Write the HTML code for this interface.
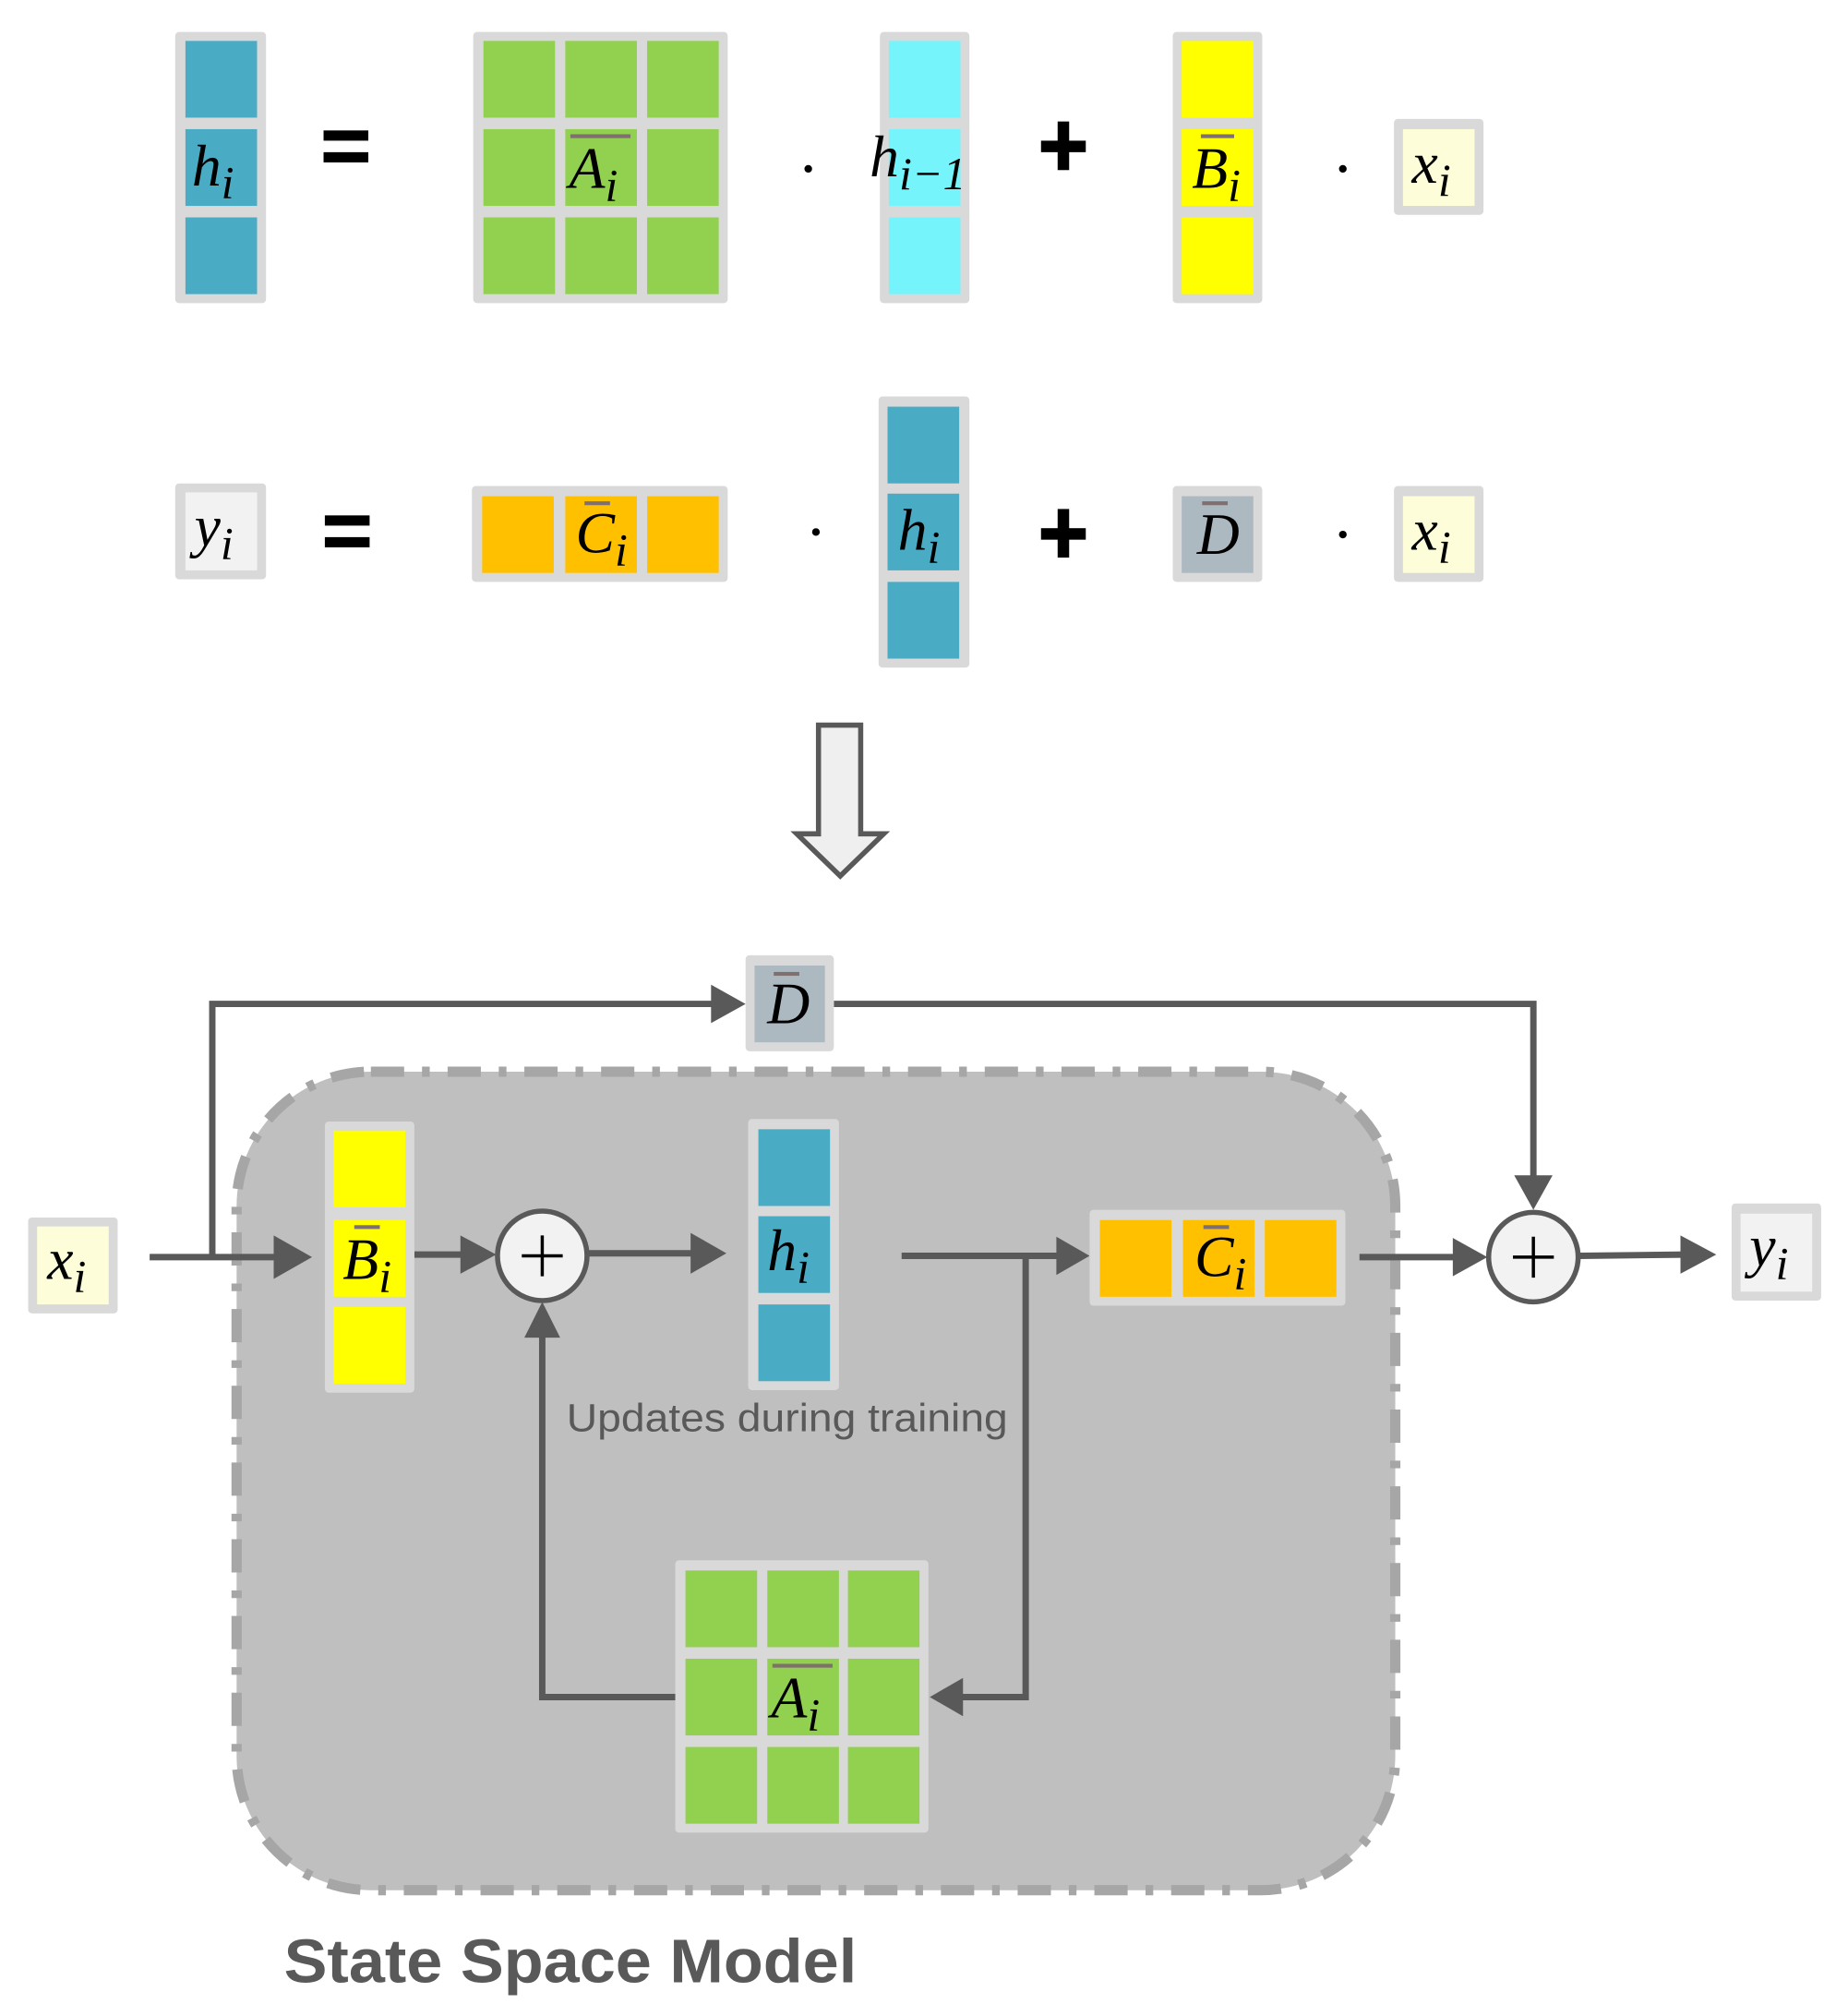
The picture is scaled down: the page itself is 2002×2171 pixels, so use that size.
<!DOCTYPE html>
<html><head><meta charset="utf-8"><style>
html,body{margin:0;padding:0;background:#fff;}
svg{display:block;}
.m{font-family:"Liberation Serif",serif;font-style:italic;font-size:46px;fill:#000;}
.s{font-size:36px;}
</style></head><body>
<svg width="2002" height="2171" viewBox="0 0 1445 1567" xmlns="http://www.w3.org/2000/svg">
<!-- Row 1 -->
<rect x="137" y="25" width="71" height="212" fill="#d9d9d9" rx="3"/>
<rect x="145" y="32" width="56" height="60" fill="#4aabc5"/>
<rect x="145" y="101" width="56" height="60" fill="#4aabc5"/>
<rect x="145" y="170" width="56" height="60" fill="#4aabc5"/>
<text x="150" y="145" class="m">h<tspan class="s" dy="10">i</tspan></text>
<rect x="253" y="102" width="35" height="8" fill="#000"/><rect x="253" y="119" width="35" height="8" fill="#000"/>
<rect x="370" y="25" width="199" height="212" fill="#d9d9d9" rx="3"/>
<g fill="#92d050">
<rect x="378" y="32" width="56" height="60"/><rect x="442" y="32" width="56" height="60"/><rect x="506" y="32" width="56" height="60"/>
<rect x="378" y="101" width="56" height="60"/><rect x="442" y="101" width="56" height="60"/><rect x="506" y="101" width="56" height="60"/>
<rect x="378" y="170" width="56" height="60"/><rect x="442" y="170" width="56" height="60"/><rect x="506" y="170" width="56" height="60"/>
</g>
<rect x="446" y="105" width="47" height="3" fill="#7f6f6f"/>
<text x="445" y="147" class="m">A<tspan class="s" dy="10">i</tspan></text>
<circle cx="632" cy="132" r="3" fill="#000"/>
<rect x="688" y="25" width="70" height="212" fill="#d9d9d9" rx="3"/>
<rect x="695" y="32" width="56" height="60" fill="#75f4fc"/>
<rect x="695" y="101" width="56" height="60" fill="#75f4fc"/>
<rect x="695" y="170" width="56" height="60" fill="#75f4fc"/>
<text x="680" y="138" class="m">h<tspan class="s" dy="10">i−1</tspan></text>
<rect x="814" y="110" width="35" height="9" fill="#000"/><rect x="827" y="95" width="9" height="38" fill="#000"/>
<rect x="917" y="25" width="70" height="212" fill="#d9d9d9" rx="3"/>
<rect x="924" y="32" width="56" height="60" fill="#ffff00"/>
<rect x="924" y="101" width="56" height="60" fill="#ffff00"/>
<rect x="924" y="170" width="56" height="60" fill="#ffff00"/>
<rect x="939" y="105" width="26" height="3" fill="#7f6f6f"/>
<text x="932" y="147" class="m">B<tspan class="s" dy="10">i</tspan></text>
<circle cx="1050" cy="132" r="3" fill="#000"/>
<rect x="1090" y="93" width="70" height="75" fill="#d9d9d9" rx="3"/>
<rect x="1097" y="101" width="56" height="60" fill="#fdfed9"/>
<text x="1104" y="143" class="m">x<tspan class="s" dy="10">i</tspan></text>
<!-- Row 2 -->
<rect x="137" y="378" width="71" height="75" fill="#d9d9d9" rx="3"/>
<rect x="145" y="385" width="56" height="61" fill="#f2f2f2"/>
<text x="152" y="427" class="m">y<tspan class="s" dy="10">i</tspan></text>
<rect x="254" y="403" width="35" height="8" fill="#000"/><rect x="254" y="420" width="35" height="8" fill="#000"/>
<rect x="369" y="380" width="200" height="75" fill="#d9d9d9" rx="3"/>
<rect x="377" y="388" width="56" height="60" fill="#ffc000"/>
<rect x="442" y="388" width="56" height="60" fill="#ffc000"/>
<rect x="506" y="388" width="56" height="60" fill="#ffc000"/>
<rect x="457" y="392" width="20" height="3" fill="#7f6f6f"/>
<text x="450" y="432" class="m">C<tspan class="s" dy="10">i</tspan></text>
<circle cx="638" cy="416" r="3" fill="#000"/>
<rect x="687" y="310" width="71" height="212" fill="#d9d9d9" rx="3"/>
<rect x="694" y="318" width="56" height="60" fill="#4aabc5"/>
<rect x="694" y="386" width="56" height="60" fill="#4aabc5"/>
<rect x="694" y="455" width="56" height="60" fill="#4aabc5"/>
<text x="702" y="430" class="m">h<tspan class="s" dy="10">i</tspan></text>
<rect x="814" y="413" width="35" height="9" fill="#000"/><rect x="827" y="398" width="9" height="38" fill="#000"/>
<rect x="917" y="380" width="70" height="75" fill="#d9d9d9" rx="3"/>
<rect x="924" y="388" width="56" height="60" fill="#adb9c1"/>
<rect x="940" y="392" width="20" height="3" fill="#7f6f6f"/>
<text x="936" y="433" class="m">D</text>
<circle cx="1050" cy="418" r="3" fill="#000"/>
<rect x="1090" y="380" width="70" height="75" fill="#d9d9d9" rx="3"/>
<rect x="1097" y="388" width="56" height="60" fill="#fdfed9"/>
<text x="1104" y="430" class="m">x<tspan class="s" dy="10">i</tspan></text>
<!-- Down arrow -->
<polygon points="640,567 673,567 673,652 691,652 657,685 623,652 640,652" fill="#efefef" stroke="#595959" stroke-width="4"/>
<!-- Region -->
<rect x="185" y="838" width="906" height="640" rx="105" fill="#bfbfbf" stroke="#a6a6a6" stroke-width="8" stroke-dasharray="26,14,6,14"/>
<!-- connectors -->
<g stroke="#595959" stroke-width="5" fill="none">
<polyline points="166,983 166,785 560,785"/>
<polyline points="652,785 1199,785 1199,922"/>
<line x1="117" y1="983" x2="222" y2="983"/>
<line x1="324" y1="981" x2="366" y2="981"/>
<line x1="460" y1="980" x2="546" y2="980"/>
<line x1="705" y1="982" x2="830" y2="982"/>
<polyline points="802,982 802,1327 750,1327"/>
<polyline points="530,1327 424,1327 424,1040"/>
<line x1="1063" y1="983" x2="1141" y2="983"/>
<line x1="1235" y1="982" x2="1318" y2="981"/>
</g>
<g fill="#595959">
<polygon points="556,770 583,785 556,800"/>
<polygon points="1184,919 1214,919 1199,946"/>
<polygon points="214,966 244,983 214,1000"/>
<polygon points="360,966 388,981 360,996"/>
<polygon points="540,964 568,980 540,996"/>
<polygon points="826,967 852,982 826,997"/>
<polygon points="753,1312 727,1327 753,1342"/>
<polygon points="410,1046 424,1018 438,1046"/>
<polygon points="1136,968 1163,983 1136,998"/>
<polygon points="1314,966 1342,981 1314,996"/>
</g>
<!-- bottom nodes -->
<rect x="583" y="747" width="69" height="75" fill="#d9d9d9" rx="3"/>
<rect x="590" y="755" width="55" height="60" fill="#adb9c1"/>
<rect x="605" y="760" width="20" height="3" fill="#7f6f6f"/>
<text x="600" y="800" class="m">D</text>
<rect x="22" y="952" width="70" height="75" fill="#d9d9d9" rx="3"/>
<rect x="29" y="959" width="56" height="61" fill="#fdfed9"/>
<text x="37" y="1000" class="m">x<tspan class="s" dy="10">i</tspan></text>
<rect x="254" y="877" width="70" height="212" fill="#d9d9d9" rx="3"/>
<rect x="261" y="884" width="56" height="60" fill="#ffff00"/>
<rect x="261" y="954" width="56" height="60" fill="#ffff00"/>
<rect x="261" y="1022" width="56" height="60" fill="#ffff00"/>
<rect x="277" y="958" width="20" height="3" fill="#7f6f6f"/>
<text x="268" y="1000" class="m">B<tspan class="s" dy="10">i</tspan></text>
<circle cx="424" cy="982" r="35" fill="#f2f2f2" stroke="#595959" stroke-width="4"/>
<path d="M424 966 V998 M408 982 H440" stroke="#000" stroke-width="2.5"/>
<rect x="585" y="875" width="71" height="212" fill="#d9d9d9" rx="3"/>
<rect x="593" y="883" width="56" height="60" fill="#4aabc5"/>
<rect x="593" y="951" width="56" height="60" fill="#4aabc5"/>
<rect x="593" y="1020" width="56" height="60" fill="#4aabc5"/>
<text x="600" y="993" class="m">h<tspan class="s" dy="10">i</tspan></text>
<text x="443" y="1119" font-family="Liberation Sans,sans-serif" font-size="31" fill="#595959" textLength="345" lengthAdjust="spacingAndGlyphs">Updates during training</text>
<rect x="852" y="946" width="200" height="75" fill="#d9d9d9" rx="3"/>
<rect x="860" y="954" width="56" height="60" fill="#ffc000"/>
<rect x="925" y="954" width="56" height="60" fill="#ffc000"/>
<rect x="989" y="954" width="56" height="60" fill="#ffc000"/>
<rect x="941" y="958" width="20" height="3" fill="#7f6f6f"/>
<text x="934" y="998" class="m">C<tspan class="s" dy="10">i</tspan></text>
<circle cx="1199" cy="983" r="35" fill="#f2f2f2" stroke="#595959" stroke-width="4"/>
<path d="M1199 967 V999 M1183 983 H1215" stroke="#000" stroke-width="2.5"/>
<rect x="1354" y="941" width="70" height="76" fill="#d9d9d9" rx="3"/>
<rect x="1361" y="949" width="56" height="61" fill="#f2f2f2"/>
<text x="1368" y="990" class="m">y<tspan class="s" dy="10">i</tspan></text>
<rect x="528" y="1220" width="198" height="213" fill="#d9d9d9" rx="3"/>
<g fill="#92d050">
<rect x="536" y="1228" width="56" height="60"/><rect x="600" y="1228" width="56" height="60"/><rect x="663" y="1228" width="56" height="60"/>
<rect x="536" y="1297" width="56" height="60"/><rect x="600" y="1297" width="56" height="60"/><rect x="663" y="1297" width="56" height="60"/>
<rect x="536" y="1366" width="56" height="60"/><rect x="600" y="1366" width="56" height="60"/><rect x="663" y="1366" width="56" height="60"/>
</g>
<rect x="604" y="1301" width="47" height="3" fill="#7f6f6f"/>
<text x="603" y="1343" class="m">A<tspan class="s" dy="10">i</tspan></text>
<text x="222" y="1550" font-family="Liberation Sans,sans-serif" font-weight="bold" font-size="48" fill="#595959" textLength="448" lengthAdjust="spacingAndGlyphs">State Space Model</text>
</svg>
</body></html>
